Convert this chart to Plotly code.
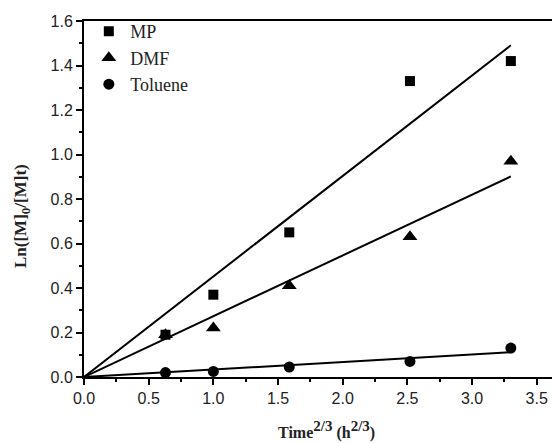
import numpy as np
import plotly.graph_objects as go

# Time^(2/3) values (h^(2/3))
time_23 = [0.63, 1.0, 1.587, 2.52, 3.30]
mp = [0.19, 0.37, 0.65, 1.33, 1.42]
dmf = [0.19, 0.22, 0.41, 0.63, 0.97]
toluene = [0.02, 0.025, 0.045, 0.07, 0.13]

series_names = ["MP", "DMF", "Toluene"]
series_values = [mp, dmf, toluene]
series_symbols = ["square", "triangle-up", "circle"]
series_sizes = [10, 13, 11]

x_ticks = [0.0, 0.5, 1.0, 1.5, 2.0, 2.5, 3.0, 3.5]
y_ticks = [0.0, 0.2, 0.4, 0.6, 0.8, 1.0, 1.2, 1.4, 1.6]

fig = go.Figure()
xa = np.array(time_23)
for name, vals in zip(series_names, series_values):
    ya = np.array(vals)
    slope = float(np.sum(xa * ya) / np.sum(xa * xa))  # linear fit through origin
    fig.add_trace(go.Scatter(
        x=[0.0, xa.max()], y=[0.0, slope * xa.max()], mode="lines",
        line=dict(color="black", width=2), showlegend=False, hoverinfo="skip"))
for name, vals, sym, sz in zip(series_names, series_values, series_symbols, series_sizes):
    fig.add_trace(go.Scatter(
        x=time_23, y=vals, mode="markers", name=name,
        marker=dict(symbol=sym, size=sz, color="black", line=dict(width=0)),
        cliponaxis=False))

axis_common = dict(
    showline=True, linecolor="black", linewidth=2,
    ticks="outside", ticklen=6, tickwidth=1.5, tickcolor="black",
    showgrid=False, zeroline=False,
    tickfont=dict(family="Liberation Sans, Arial, sans-serif", size=16, color="#222"),
)

serif = "Liberation Serif, Times New Roman, serif"
sup = '<sup><span style="font-size:15px">2/3</span></sup>'

fig.update_layout(
    width=552, height=435,
    margin=dict(l=76, r=0, t=13, b=66),
    paper_bgcolor="white", plot_bgcolor="white",
    xaxis=dict(range=[0, 3.68], tickvals=x_ticks, tickformat=".1f", mirror=True,
               minor=dict(ticks="outside", ticklen=3, tickwidth=1.5, tickcolor="black", dtick=0.25),
               **axis_common),
    yaxis=dict(range=[0, 1.6], tickvals=y_ticks, tickformat=".1f", mirror=False,
               minor=dict(ticks="outside", ticklen=3, tickwidth=1.5, tickcolor="black", dtick=0.1),
               **axis_common),
    legend=dict(x=0.007, y=1.022, xanchor="left", yanchor="top",
                bgcolor="rgba(0,0,0,0)", borderwidth=0,
                font=dict(family=serif, size=18, color="#222"),
                tracegroupgap=0, itemwidth=33),
    showlegend=True,
    annotations=[
        dict(text="<b>Time" + sup + " (h" + sup + ")</b>", xref="paper", yref="paper",
             x=(326 - 84) / 476, y=-53 / 356, xanchor="center", yanchor="middle", showarrow=False,
             font=dict(family=serif, size=16, color="#222")),
        dict(text='<b>Ln([M]<sub><span style="font-size:13px">0</span></sub>/[M]t)</b>',
             xref="paper", yref="paper",
             x=-62 / 476, y=(377 - 216) / 356, xanchor="center", yanchor="middle", showarrow=False,
             textangle=-90,
             font=dict(family=serif, size=17, color="#222")),
    ],
)

fig.write_html("out.html")
